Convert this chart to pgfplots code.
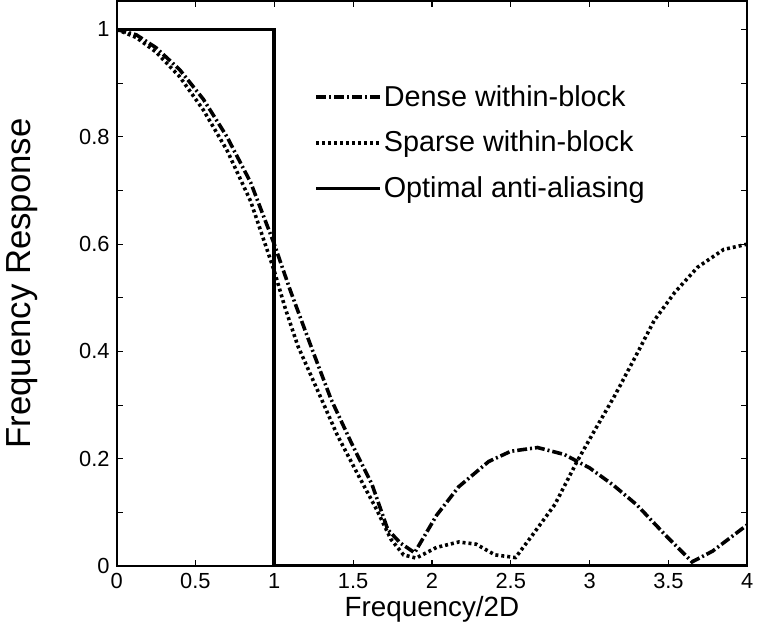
\documentclass[border=0pt]{standalone}
\usepackage{fontspec}
\setmainfont{Liberation Sans}
\usepackage{pgfplots}
\pgfplotsset{compat=1.18}

\begin{document}
\begin{tikzpicture}
  \begin{axis}[
      scale only axis,
      width  = 317.5pt,
      height = 284.5pt,
      xmin = 0, xmax = 4,
      ymin = 0, ymax = 1.053,
      xtick = {0,0.5,...,4},
      ytick = {0,0.2,0.4,0.6,0.8,1},
      minor ytick = {0.1,0.3,0.5,0.7,0.9},
      xticklabels = {0,0.5,1,1.5,2,2.5,3,3.5,4},
      yticklabels = {0,0.2,0.4,0.6,0.8,1},
      tick align = inside,
      major tick length = 3pt,
      minor tick length = 3pt,
      every tick/.style = {black, line width=0.6pt},
      axis line style = {line width=1pt},
      tick label style = {font=\fontsize{11}{13}\selectfont},
      /pgf/number format/assume math mode=true,
      xlabel = {Frequency/2D},
      ylabel = {Frequency Response},
      xlabel style = {font=\fontsize{14}{16}\selectfont, yshift=3pt},
      ylabel style = {font=\fontsize{17.5}{20}\selectfont},
      ylabel shift = 14pt,
      legend image code/.code = {\draw[#1] (0pt,0pt) -- (32pt,0pt);},
      legend style = {
        draw=none, fill=none,
        at={(0.304,0.862)}, anchor=north west,
        font=\fontsize{14.5}{17}\selectfont,
        row sep=9pt,
        /tikz/every even column/.append style={column sep=2pt},
        nodes={inner sep=1pt},
      },
      legend cell align = left,
    ]
    % dense within-block
    \addplot[black, line width=1.8pt, line cap=butt,
             dash pattern=on 5pt off 1.5pt on 1pt off 1.5pt]
      coordinates {
        (0,1.0) (0.125,0.99) (0.25,0.966) (0.4,0.925) (0.55,0.87)
        (0.7,0.80) (0.85,0.715) (1.0,0.60) (1.1,0.515)
        (1.24,0.404) (1.36,0.311) (1.49,0.229) (1.62,0.152) (1.72,0.068)
        (1.8,0.043) (1.89,0.025) (2.03,0.095) (2.17,0.148) (2.36,0.195)
        (2.5,0.214) (2.67,0.221) (2.84,0.208) (3.0,0.183) (3.15,0.151)
        (3.3,0.114) (3.49,0.055) (3.65,0.008) (3.78,0.028) (4.0,0.077)
      };
    \addlegendentry{Dense within-block}
    % sparse within-block
    \addplot[black, line width=1.8pt, line cap=butt,
             dash pattern=on 1.5pt off 1.5pt]
      coordinates {
        (0,1.0) (0.125,0.985) (0.25,0.958) (0.4,0.912) (0.55,0.85)
        (0.7,0.775) (0.85,0.68) (1.0,0.55) (1.07,0.48)
        (1.15,0.41) (1.28,0.324) (1.40,0.244) (1.53,0.171) (1.65,0.105)
        (1.74,0.05) (1.82,0.021) (1.9,0.015) (2.03,0.035) (2.17,0.045)
        (2.28,0.041) (2.40,0.021) (2.53,0.016) (2.63,0.055) (2.78,0.115)
        (2.92,0.195) (3.03,0.252) (3.16,0.318) (3.29,0.39) (3.41,0.458)
        (3.54,0.51) (3.685,0.557) (3.85,0.59) (4.0,0.6)
      };
    \addlegendentry{Sparse within-block}
    % optimal anti-aliasing
    \addplot[black, line width=1.8pt]
      coordinates {(0,1) (1,1) (1,0) (4,0)};
    \addlegendentry{Optimal anti-aliasing}
  \end{axis}
\end{tikzpicture}
\end{document}
